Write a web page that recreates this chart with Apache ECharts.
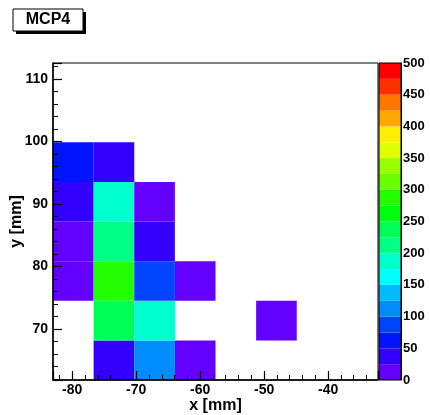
<!DOCTYPE html>
<html>
<head>
<meta charset="utf-8">
<script src="https://cdn.jsdelivr.net/npm/echarts@6/dist/echarts.min.js"></script>
<style>
html, body { margin: 0; padding: 0; background: #fff; }
#main { width: 430px; height: 415px; }
</style>
</head>
<body>
<div id="main"></div>
<script>
var binW = 6.35;
var xEdges = [-83, -76.65, -70.3, -63.95, -57.6, -51.25, -44.9, -38.55];
var yEdges = [61.8, 68.15, 74.5, 80.85, 87.2, 93.55, 99.9, 106.25];
// counts, one row per y bin (bottom row first), one column per x bin
var counts = [
    [0, 40, 110, 15, 0, 0, 0, 0],
    [0, 240, 190, 0, 0, 15, 0, 0],
    [15, 285, 85, 15, 0, 0, 0, 0],
    [15, 210, 35, 0, 0, 0, 0, 0],
    [35, 185, 15, 0, 0, 0, 0, 0],
    [60, 40, 0, 0, 0, 0, 0, 0],
    [0, 0, 0, 0, 0, 0, 0, 0],
    [0, 0, 0, 0, 0, 0, 0, 0]
];
// colour levels of the palette axis
var levels = [0, 25, 50, 75, 100, 125, 150, 175, 200, 225, 250, 275, 300, 325, 350, 375, 400, 425, 450, 475, 500];
var levelColors = ['#6300ff', '#3300ff', '#0014ff', '#0044ff', '#008bff', '#00bbff', '#00fffc', '#00ffcc',
    '#00ff85', '#00ff55', '#00ff0e', '#22ff00', '#69ff00', '#99ff00', '#e0ff00', '#ffee00',
    '#ffa700', '#ff7700', '#ff3000', '#ff0000'];

var font = 'Liberation Sans, Arial, sans-serif';

var cells = [];
counts.forEach(function (row, j) {
    row.forEach(function (v, i) {
        if (v > 0) cells.push([xEdges[i], yEdges[j], xEdges[i] + binW, yEdges[j] + binW, v]);
    });
});

var pieces = levelColors.map(function (c, i) {
    return { gte: levels[i], lt: levels[i + 1], color: c };
});

var barSeries = levelColors.map(function (c, i) {
    return {
        type: 'bar', xAxisIndex: 1, yAxisIndex: 1, stack: 'palette',
        barWidth: '100%', silent: true,
        itemStyle: { color: c },
        data: [levels[i + 1] - levels[i]]
    };
});

var chartDom = document.getElementById('main');
var myChart = echarts.init(chartDom);
var option;

option = {
    animation: false,
    textStyle: { fontFamily: font },
    graphic: [
        { type: 'rect', shape: { x: 16, y: 12, width: 70, height: 22 }, style: { fill: '#000' } },
        { type: 'rect', shape: { x: 13, y: 9, width: 70, height: 22 }, style: { fill: '#fff', stroke: '#000', lineWidth: 1 } },
        { type: 'text', x: 48, y: 20, style: { text: 'MCP4', font: 'bold 16px ' + font, fill: '#000', align: 'center', verticalAlign: 'middle' } }
    ],
    grid: [
        { left: 53, top: 63, right: 52, bottom: 35, outerBoundsMode: 'none', containLabel: false, show: true, borderColor: '#000', borderWidth: 1, backgroundColor: 'transparent', z: 10 },
        { left: 379, top: 63, width: 22, bottom: 35, outerBoundsMode: 'none', containLabel: false, show: true, borderColor: '#000', borderWidth: 1, backgroundColor: 'transparent', z: 10 }
    ],
    visualMap: {
        type: 'piecewise', show: false, seriesIndex: 0, dimension: 4,
        pieces: pieces
    },
    xAxis: [{
        gridIndex: 0, type: 'value', min: -83, max: -32.2, splitNumber: 5, z: 5,
        name: 'x [mm]', nameLocation: 'middle', nameGap: 18, nameMoveOverlap: false,
        nameTextStyle: { fontSize: 16, fontWeight: 'bold', color: '#000' },
        axisLine: { onZero: false, lineStyle: { color: '#000', width: 1.5 } },
        axisTick: { inside: true, length: 9, lineStyle: { color: '#000', width: 1.2 } },
        minorTick: { show: true, splitNumber: 5, length: 5, lineStyle: { color: '#000', width: 1 } },
        axisLabel: { showMinLabel: false, showMaxLabel: false, margin: 3, fontSize: 14, fontWeight: 'bold', color: '#000' },
        splitLine: { show: false }
    }, {
        gridIndex: 1, type: 'category', data: [''], show: false
    }],
    yAxis: [{
        gridIndex: 0, type: 'value', min: 61.8, max: 112.6, splitNumber: 5, z: 5,
        name: 'y [mm]', nameLocation: 'middle', nameGap: 28, nameMoveOverlap: false,
        nameTextStyle: { fontSize: 16, fontWeight: 'bold', color: '#000' },
        axisLine: { onZero: false, lineStyle: { color: '#000', width: 1.5 } },
        axisTick: { inside: true, length: 9, lineStyle: { color: '#000', width: 1.2 } },
        minorTick: { show: true, splitNumber: 5, length: 5, lineStyle: { color: '#000', width: 1 } },
        axisLabel: { showMinLabel: false, showMaxLabel: false, margin: 5, fontSize: 14, fontWeight: 'bold', color: '#000' },
        splitLine: { show: false }
    }, {
        gridIndex: 1, type: 'value', position: 'right', min: 0, max: 500, interval: 50, z: 12,
        axisLine: { show: true, lineStyle: { color: '#000', width: 1 } },
        axisTick: { inside: true, length: 8, lineStyle: { color: '#000', width: 1.2 } },
        axisLabel: { margin: 2, fontSize: 13, fontWeight: 'bold', color: '#000' },
        splitLine: { show: false }
    }],
    series: [{
        type: 'custom',
        xAxisIndex: 0, yAxisIndex: 0,
        clip: true,
        encode: { x: [0, 2], y: [1, 3] },
        renderItem: function (params, api) {
            var p0 = api.coord([api.value(0), api.value(1)]);
            var p1 = api.coord([api.value(2), api.value(3)]);
            return {
                type: 'rect',
                shape: { x: p0[0], y: p1[1], width: p1[0] - p0[0], height: p0[1] - p1[1] },
                style: { fill: api.visual('color') }
            };
        },
        data: cells
    }].concat(barSeries)
};

option && myChart.setOption(option);
</script>
</body>
</html>
